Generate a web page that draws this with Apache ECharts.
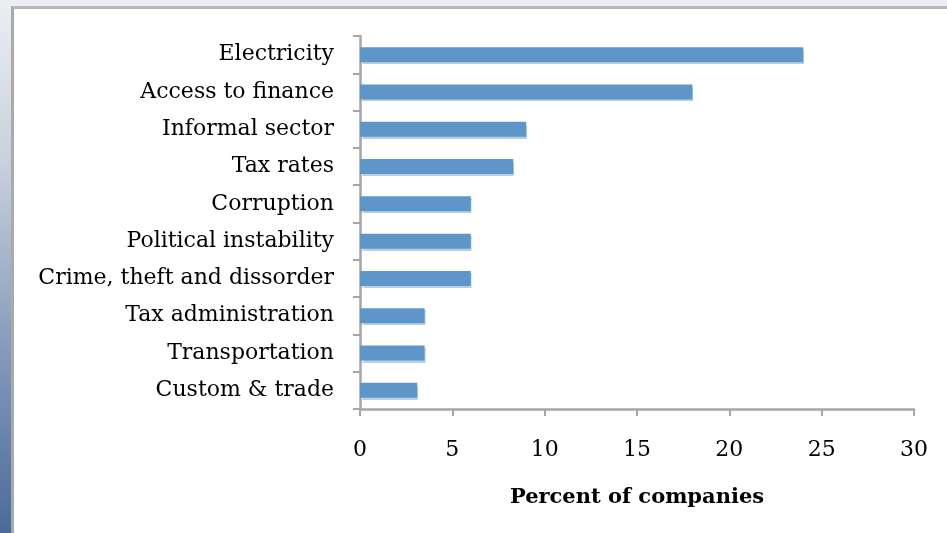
<!DOCTYPE html>
<html>
<head>
<meta charset="utf-8">
<script src="https://cdn.jsdelivr.net/npm/echarts@6/dist/echarts.min.js"></script>
<style>
  html, body { margin: 0; padding: 0; width: 947px; height: 533px; overflow: hidden; background: #eceef2; }
  #strip { position: absolute; left: 0; top: 0; width: 11px; height: 533px;
    background: linear-gradient(to bottom, #eceef2 0%, #c9d1dd 30%, #7d94b7 70%, #4a6b9a 100%); }
  #frame { position: absolute; left: 11px; top: 6px; width: 936px; height: 527px;
    background: #ffffff; border-left: 3px solid #aaaaaa; border-top: 3px solid #b3b6ba; box-sizing: border-box; }
  #chart { position: absolute; left: 0; top: 0; width: 947px; height: 533px; }
</style>
</head>
<body>
<div id="strip"></div>
<div id="frame"></div>
<div id="chart"></div>
<script>
const categories = ["Electricity", "Access to finance", "Informal sector", "Tax rates", "Corruption",
  "Political instability", "Crime, theft and dissorder", "Tax administration", "Transportation", "Custom & trade"];
const values = [24, 18, 9, 8.3, 6, 6, 6, 3.5, 3.5, 3.1];
const axisTitle = "Percent of companies";

const chart = echarts.init(document.getElementById('chart'), null, { renderer: 'canvas' });
const serif = "'DejaVu Serif', 'Liberation Serif', serif";
chart.setOption({
  backgroundColor: 'transparent',
  animation: false,
  grid: { left: 360, right: 33, top: 36, bottom: 124, containLabel: false },
  xAxis: {
    type: 'value', min: 0, max: 30, interval: 5,
    splitLine: { show: false },
    axisLine: { show: true, lineStyle: { color: '#a6a6a6', width: 2.5 } },
    axisTick: { show: true, length: 7, lineStyle: { color: '#a6a6a6', width: 2 } },
    axisLabel: { color: '#000', fontFamily: serif, fontSize: 22, margin: 30 },
    name: axisTitle, nameLocation: 'middle', nameGap: 78,
    nameTextStyle: { color: '#000', fontFamily: serif, fontSize: 21, fontWeight: 'bold' }
  },
  yAxis: {
    type: 'category', data: categories, inverse: true,
    axisLine: { show: true, lineStyle: { color: '#a6a6a6', width: 2.5 } },
    axisTick: { show: true, length: 7, lineStyle: { color: '#a6a6a6', width: 2 } },
    axisLabel: { color: '#000', fontFamily: serif, fontSize: 22, margin: 26, padding: [8, 0, 0, 0] }
  },
  series: [{
    type: 'bar', data: values, barWidth: 15,
    itemStyle: { color: '#5f96c9', shadowColor: 'rgba(95,150,201,0.45)', shadowOffsetX: 1, shadowOffsetY: 2, shadowBlur: 1 }
  }]
});
</script>
</body>
</html>
